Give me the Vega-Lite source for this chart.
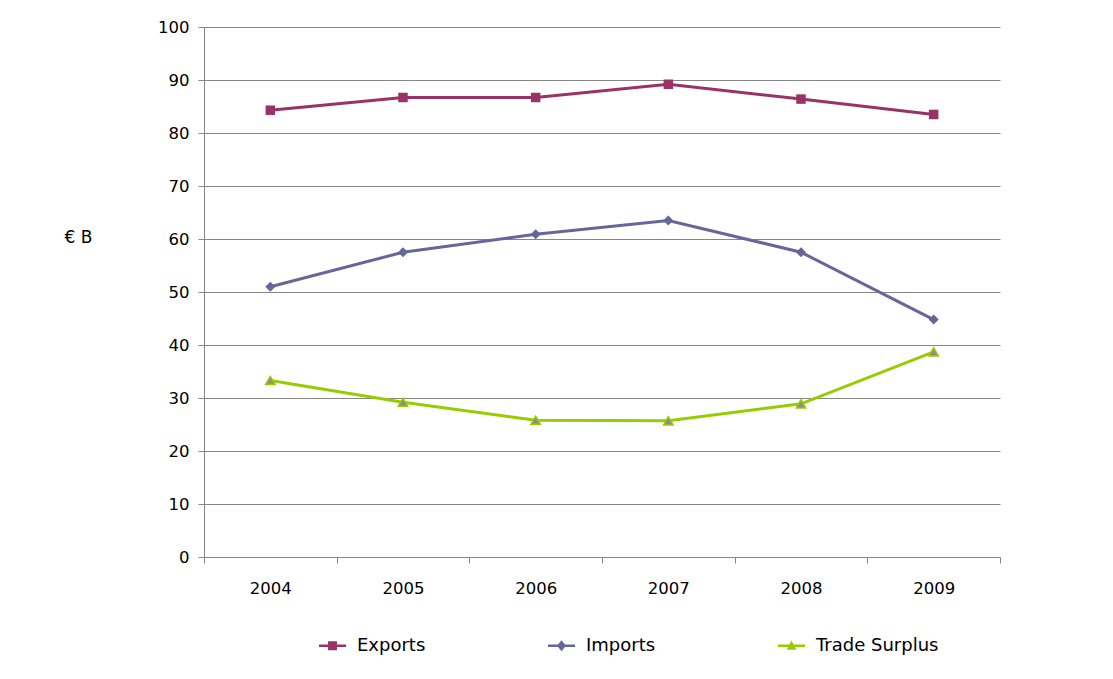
{
  "$schema": "https://vega.github.io/schema/vega-lite/v6.json",
  "width": 796,
  "height": 530,
  "autosize": "none",
  "padding": {"left": 204, "top": 27, "right": 113, "bottom": 122},
  "background": "white",
  "config": {
    "font": "DejaVu Sans",
    "view": {"stroke": null},
    "axis": {
      "labelFont": "DejaVu Sans",
      "labelFontSize": 16.5,
      "labelColor": "#000000",
      "domainColor": "#868686",
      "tickColor": "#868686",
      "gridColor": "#868686",
      "gridOpacity": 1,
      "tickSize": 6
    }
  },
  "data": {
    "values": [
      {"year": "2004", "series": "Exports", "value": 84.3},
      {"year": "2005", "series": "Exports", "value": 86.7},
      {"year": "2006", "series": "Exports", "value": 86.7},
      {"year": "2007", "series": "Exports", "value": 89.2},
      {"year": "2008", "series": "Exports", "value": 86.4},
      {"year": "2009", "series": "Exports", "value": 83.5},
      {"year": "2004", "series": "Imports", "value": 51.0},
      {"year": "2005", "series": "Imports", "value": 57.5},
      {"year": "2006", "series": "Imports", "value": 60.9},
      {"year": "2007", "series": "Imports", "value": 63.5},
      {"year": "2008", "series": "Imports", "value": 57.5},
      {"year": "2009", "series": "Imports", "value": 44.8},
      {"year": "2004", "series": "Trade Surplus", "value": 33.3},
      {"year": "2005", "series": "Trade Surplus", "value": 29.2},
      {"year": "2006", "series": "Trade Surplus", "value": 25.8},
      {"year": "2007", "series": "Trade Surplus", "value": 25.7},
      {"year": "2008", "series": "Trade Surplus", "value": 28.9},
      {"year": "2009", "series": "Trade Surplus", "value": 38.7}
    ]
  },
  "encoding": {
    "x": {
      "field": "year",
      "type": "ordinal",
      "bandPosition": 0.5,
      "scale": {"type": "band", "paddingInner": 0, "paddingOuter": 0},
      "axis": {
        "title": null,
        "labelAngle": 0,
        "tickBand": "extent",
        "labelPadding": 17,
        "grid": false,
        "domain": true
      }
    },
    "y": {
      "field": "value",
      "type": "quantitative",
      "scale": {"domain": [0, 100], "nice": false},
      "axis": {
        "values": [0, 10, 20, 30, 40, 50, 60, 70, 80, 90, 100],
        "grid": true,
        "labelPadding": 9,
        "title": "€ B",
        "titleAngle": 0,
        "titleFont": "DejaVu Sans",
        "titleFontSize": 17,
        "titleFontWeight": "normal",
        "titleColor": "#000000",
        "titleAlign": "center",
        "titleBaseline": "middle",
        "titleX": -126,
        "titleY": 210
      }
    },
    "color": {
      "field": "series",
      "type": "nominal",
      "scale": {
        "domain": ["Exports", "Imports", "Trade Surplus"],
        "range": ["#993366", "#666699", "#99CC00"]
      },
      "legend": {
        "title": null,
        "orient": "none",
        "direction": "horizontal",
        "legendX": 115,
        "legendY": 605,
        "symbolSize": 729,
        "symbolStrokeWidth": 0,
        "symbolOpacity": 1,
        "labelFont": "DejaVu Sans",
        "labelFontSize": 18,
        "labelColor": "#000000",
        "labelOffset": 11,
        "columnPadding": 122
      }
    }
  },
  "layer": [
    {
      "mark": {"type": "point", "filled": true, "size": 10},
      "encoding": {
        "shape": {
          "field": "series",
          "type": "nominal",
          "scale": {
            "domain": ["Exports", "Imports", "Trade Surplus"],
            "range": [
              "M-1,-0.1H1V0.1H-1Z M-0.33,-0.33H0.33V0.33H-0.33Z",
              "M-1,-0.1H1V0.1H-1Z M0,-0.4L0.33,0L0,0.4L-0.33,0Z",
              "M-1,-0.1H1V0.1H-1Z M0,-0.38L0.36,0.3H-0.36Z"
            ]
          }
        }
      }
    },
    {
      "mark": {"type": "line", "strokeWidth": 3}
    },
    {
      "transform": [{"filter": "datum.series === 'Exports'"}],
      "mark": {"type": "point", "filled": true, "shape": "square", "size": 90, "opacity": 1}
    },
    {
      "transform": [{"filter": "datum.series === 'Imports'"}],
      "mark": {"type": "point", "filled": true, "shape": "diamond", "size": 100, "opacity": 1}
    },
    {
      "transform": [{"filter": "datum.series === 'Trade Surplus'"}],
      "mark": {"type": "point", "shape": "triangle-up", "size": 90, "fill": "#8C8C8C", "stroke": "#99CC00", "strokeWidth": 1.5, "fillOpacity": 1, "opacity": 1}
    }
  ]
}
